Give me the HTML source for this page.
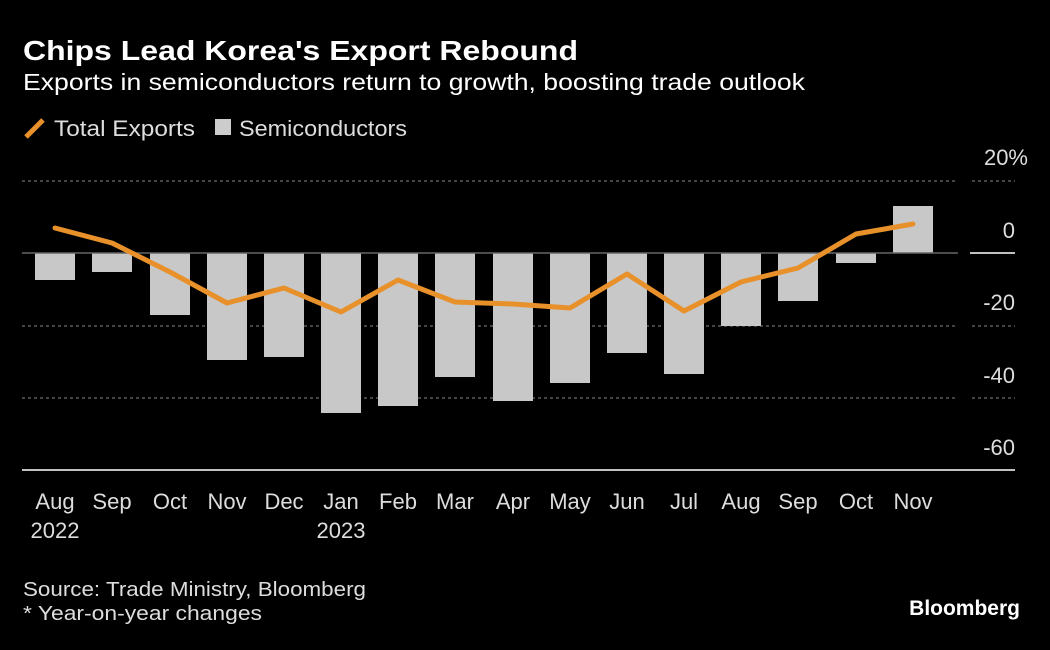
<!DOCTYPE html>
<html><head><meta charset="utf-8"><style>
body{margin:0;background:#000;width:1050px;height:645px;overflow:hidden;font-family:"Liberation Sans","DejaVu Sans",sans-serif}
</style></head><body>
<svg width="1050" height="645" xmlns="http://www.w3.org/2000/svg" font-family="Liberation Sans, DejaVu Sans, sans-serif">
<rect width="1050" height="645" fill="#000"/>
<text x="23" y="60" fill="#fff" font-size="28" font-weight="bold" textLength="555" lengthAdjust="spacingAndGlyphs">Chips Lead Korea's Export Rebound</text>
<text x="23" y="90" fill="#fff" font-size="23" textLength="782" lengthAdjust="spacingAndGlyphs">Exports in semiconductors return to growth, boosting trade outlook</text>
<line x1="26" y1="137" x2="43" y2="120" stroke="#e8902a" stroke-width="5"/>
<text x="54" y="136" fill="#ddd" font-size="22" textLength="141" lengthAdjust="spacingAndGlyphs">Total Exports</text>
<rect x="215" y="119" width="16" height="16" fill="#ccc"/>
<text x="239" y="136" fill="#ddd" font-size="22" textLength="168" lengthAdjust="spacingAndGlyphs">Semiconductors</text>
<g stroke="#888" stroke-width="1" stroke-dasharray="3,3">
<line x1="22" y1="181" x2="955" y2="181"/><line x1="972" y1="181" x2="1015" y2="181"/>
<line x1="22" y1="326" x2="955" y2="326"/><line x1="972" y1="326" x2="1015" y2="326"/>
<line x1="22" y1="398" x2="955" y2="398"/><line x1="972" y1="398" x2="1015" y2="398"/>
</g>
<line x1="22" y1="470" x2="1015" y2="470" stroke="#fff" stroke-width="1.5"/>
<g fill="#c8c8c8">
<rect x="35" y="253" width="40" height="27"/>
<rect x="92" y="253" width="40" height="19"/>
<rect x="150" y="253" width="40" height="62"/>
<rect x="207" y="253" width="40" height="107"/>
<rect x="264" y="253" width="40" height="104"/>
<rect x="321" y="253" width="40" height="160"/>
<rect x="378" y="253" width="40" height="153"/>
<rect x="435" y="253" width="40" height="124"/>
<rect x="493" y="253" width="40" height="148"/>
<rect x="550" y="253" width="40" height="130"/>
<rect x="607" y="253" width="40" height="100"/>
<rect x="664" y="253" width="40" height="121"/>
<rect x="721" y="253" width="40" height="73"/>
<rect x="778" y="253" width="40" height="48"/>
<rect x="836" y="253" width="40" height="10"/>
<rect x="893" y="206" width="40" height="47"/>
</g>
<line x1="22" y1="253" x2="958" y2="253" stroke="#666" stroke-width="1.5"/>
<line x1="970" y1="253" x2="1015" y2="253" stroke="#fff" stroke-width="1.5"/>
<polyline fill="none" stroke="#e8902a" stroke-width="5" stroke-linecap="round" stroke-linejoin="round" points="55,228 112,243 170,272 227,303 284,288 341,312 398,280 455,302 513,304 570,308 627,274 684,311 741,282 798,268 856,234 913,224"/>
<g fill="#ddd" font-size="22" text-anchor="end">
<text x="1028" y="165">20%</text>
<text x="1015" y="238">0</text>
<text x="1015" y="310">-20</text>
<text x="1015" y="383">-40</text>
<text x="1015" y="455">-60</text>
</g>
<g fill="#ddd" font-size="22" text-anchor="middle">
<text x="55" y="509">Aug</text><text x="55" y="538">2022</text>
<text x="112" y="509">Sep</text><text x="170" y="509">Oct</text><text x="227" y="509">Nov</text>
<text x="284" y="509">Dec</text><text x="341" y="509">Jan</text><text x="341" y="538">2023</text>
<text x="398" y="509">Feb</text><text x="455" y="509">Mar</text><text x="513" y="509">Apr</text>
<text x="570" y="509">May</text><text x="627" y="509">Jun</text><text x="684" y="509">Jul</text>
<text x="741" y="509">Aug</text><text x="798" y="509">Sep</text><text x="856" y="509">Oct</text><text x="913" y="509">Nov</text>
</g>
<text x="23" y="596" fill="#ddd" font-size="20" textLength="343" lengthAdjust="spacingAndGlyphs">Source: Trade Ministry, Bloomberg</text>
<text x="23" y="620" fill="#ddd" font-size="20" textLength="239" lengthAdjust="spacingAndGlyphs">* Year-on-year changes</text>
<text x="1020" y="615" fill="#fff" font-size="21" font-weight="bold" text-anchor="end">Bloomberg</text>
</svg>
</body></html>
